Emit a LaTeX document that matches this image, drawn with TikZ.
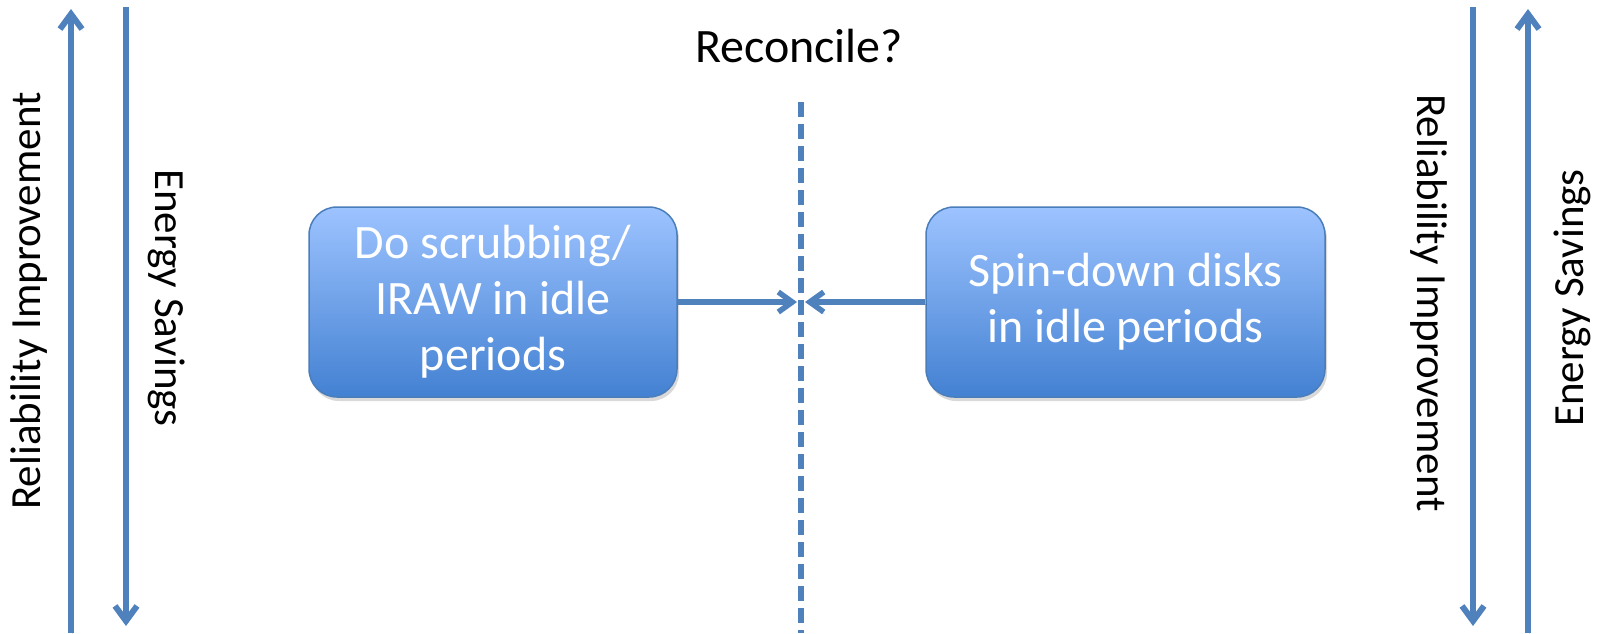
\documentclass[tikz,border=0pt]{standalone}
\usepackage{fontspec}
\setmainfont{Carlito}
\usetikzlibrary{arrows.meta,shadows}
\definecolor{lineblue}{HTML}{4F81BD}
\definecolor{boxtop}{HTML}{9DC3FF}
\definecolor{boxbot}{HTML}{4381D2}
\definecolor{boxedge}{HTML}{4A7EBB}
\begin{document}
\begin{tikzpicture}[x=1pt,y=-1pt,
  softshadow/.style={preaction={draw=black,opacity=0.12,
    transform canvas={shift={(1.5pt,-2.5pt)}}}},
  axis/.style={draw=lineblue,line width=6pt,softshadow,
    -{Straight Barb[length=15pt,width=22pt]}},
  flow/.style={draw=lineblue,line width=5.5pt,softshadow,
    -{Straight Barb[length=14pt,width=20pt]}},
  divider/.style={draw=lineblue,line width=5.5pt,dash pattern=on 15pt off 7pt},
  sidelabel/.style={font=\fontsize{43}{50}\selectfont,inner sep=0pt},
  actbox/.style={draw=boxedge,line width=1.5pt,rounded corners=28pt,
    top color=boxtop,bottom color=boxbot,text=white,align=center,
    minimum height=190pt,inner sep=0pt,
    font=\fontsize{48}{56}\selectfont,
    drop shadow={opacity=0.3,shadow xshift=2pt,shadow yshift=-4pt}}]
\useasboundingbox (0,0) rectangle (1604,633);

% vertical axes
\coordinate (lupB) at (71,633);   \coordinate (lupT) at (71,9);
\coordinate (ldnT) at (126,7);    \coordinate (ldnB) at (126,626);
\coordinate (rdnT) at (1473,7);   \coordinate (rdnB) at (1473,626);
\coordinate (rupB) at (1528,633); \coordinate (rupT) at (1528,9);
\draw[axis] (lupB) -- (lupT);
\draw[axis] (ldnT) -- (ldnB);
\draw[axis] (rdnT) -- (rdnB);
\draw[axis] (rupB) -- (rupT);

\node[sidelabel,rotate=90]  (lrel) at (29,301)   {Reliability Improvement};
\node[sidelabel,rotate=-90] (len)  at (167,298)  {Energy Savings};
\node[sidelabel,rotate=-90] (rrel) at (1429,303) {Reliability Improvement};
\node[sidelabel,rotate=90]  (ren)  at (1572,298) {Energy Savings};

% title and dividing line
\node[font=\fontsize{48}{56}\selectfont,anchor=base,inner sep=0pt] (rec) at (799,62) {Reconcile?};
\coordinate (dtop) at (801,102);
\coordinate (dbot) at (801,633);
\draw[divider] (dtop) -- (dbot);

% the two competing actions
\node[actbox,minimum width=368pt] (scrub) at (493,302)
  {Do scrubbing/\\IRAW in idle\\periods};
\node[actbox,minimum width=399pt] (spin) at (1125.5,302)
  {Spin-down disks\\in idle periods};

\coordinate (meetL) at (797,302);
\coordinate (meetR) at (805,302);
\draw[flow] (scrub.east) -- (meetL);
\draw[flow] (spin.west) -- (meetR);
\end{tikzpicture}
\end{document}
